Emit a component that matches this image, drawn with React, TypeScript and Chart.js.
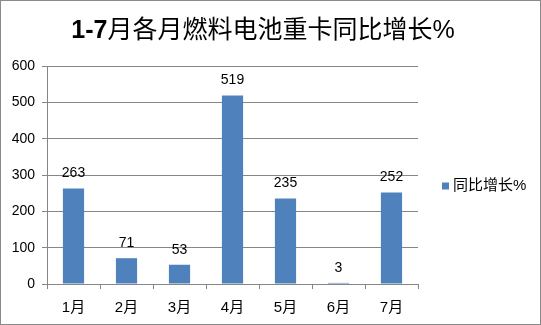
import React, { useEffect, useRef } from "react";
import { Chart, registerables } from "chart.js";

Chart.register(...registerables);

const months = ["1月", "2月", "3月", "4月", "5月", "6月", "7月"];
const growth = [263, 71, 53, 519, 235, 3, 252];
const yTicks = [0, 100, 200, 300, 400, 500, 600];
const seriesName = "同比增长%";
const titleLead = "1-7";
const titleRest = "月各月燃料电池重卡同比增长%";

const FONT = "'Liberation Sans', 'Noto Sans CJK SC', sans-serif";
const BAR = "#4f81bd";
const GRID = "#868686";

const decorations = {
  id: "decorations",
  afterDatasetsDraw(chart: any) {
    const { ctx, chartArea } = chart;
    ctx.save();
    // value labels above bars
    const meta = chart.getDatasetMeta(0);
    ctx.fillStyle = "#000";
    ctx.font = `14px ${FONT}`;
    ctx.textAlign = "center";
    ctx.textBaseline = "bottom";
    meta.data.forEach((el: any, i: number) => {
      ctx.fillText(String(growth[i]), el.x, el.y - 8);
    });
    // title: bold numerals followed by regular-weight text
    ctx.textBaseline = "middle";
    ctx.textAlign = "left";
    const boldFont = `bold 25px ${FONT}`;
    const restFont = `25px ${FONT}`;
    ctx.font = boldFont;
    const w1 = ctx.measureText(titleLead).width;
    ctx.font = restFont;
    const w2 = ctx.measureText(titleRest).width;
    const x0 = 262 - (w1 + w2) / 2;
    ctx.font = boldFont;
    ctx.fillText(titleLead, x0, 30);
    ctx.font = restFont;
    ctx.fillText(titleRest, x0 + w1, 30);
    // legend
    const lx = chartArea.right + 24;
    const ly = 185;
    ctx.fillStyle = BAR;
    ctx.fillRect(lx, ly - 3.5, 7, 7);
    ctx.fillStyle = "#000";
    ctx.font = `15px ${FONT}`;
    ctx.fillText(seriesName, lx + 11, ly);
    ctx.restore();
  },
};

export default function App() {
  const ref = useRef<HTMLCanvasElement>(null);
  useEffect(() => {
    document.body.style.margin = "0";
    const chart = new Chart(ref.current!, {
      type: "bar",
      data: {
        labels: months,
        datasets: [
          {
            label: seriesName,
            data: growth,
            backgroundColor: BAR,
            barPercentage: 0.8,
            categoryPercentage: 0.5,
          },
        ],
      },
      options: {
        animation: false,
        responsive: false,
        layout: { padding: { top: 65, right: 122, bottom: 0, left: 0 } },
        plugins: { legend: { display: false }, title: { display: false }, tooltip: { enabled: false } },
        scales: {
          x: {
            grid: { drawOnChartArea: false, drawTicks: true, tickLength: 5, color: GRID, offset: true },
            border: { color: GRID },
            ticks: { color: "#000", font: { size: 15, family: FONT }, padding: 10 },
            afterFit: (s: any) => {
              s.height = 40;
            },
          },
          y: {
            min: 0,
            max: 600,
            afterBuildTicks: (s: any) => {
              s.ticks = yTicks.map((v) => ({ value: v }));
            },
            grid: { color: GRID, tickLength: 5 },
            border: { color: GRID },
            ticks: { color: "#000", font: { size: 14, family: FONT }, padding: 7 },
            afterFit: (s: any) => {
              s.width = 46;
            },
          },
        },
      },
      plugins: [decorations],
    });
    return () => chart.destroy();
  }, []);
  return (
    <div style={{ position: "relative", width: 541, height: 325, boxSizing: "border-box", border: "1px solid #8a8a8a", background: "#fff" }}>
      <canvas ref={ref} width={539} height={323} style={{ display: "block" }} />
    </div>
  );
}
